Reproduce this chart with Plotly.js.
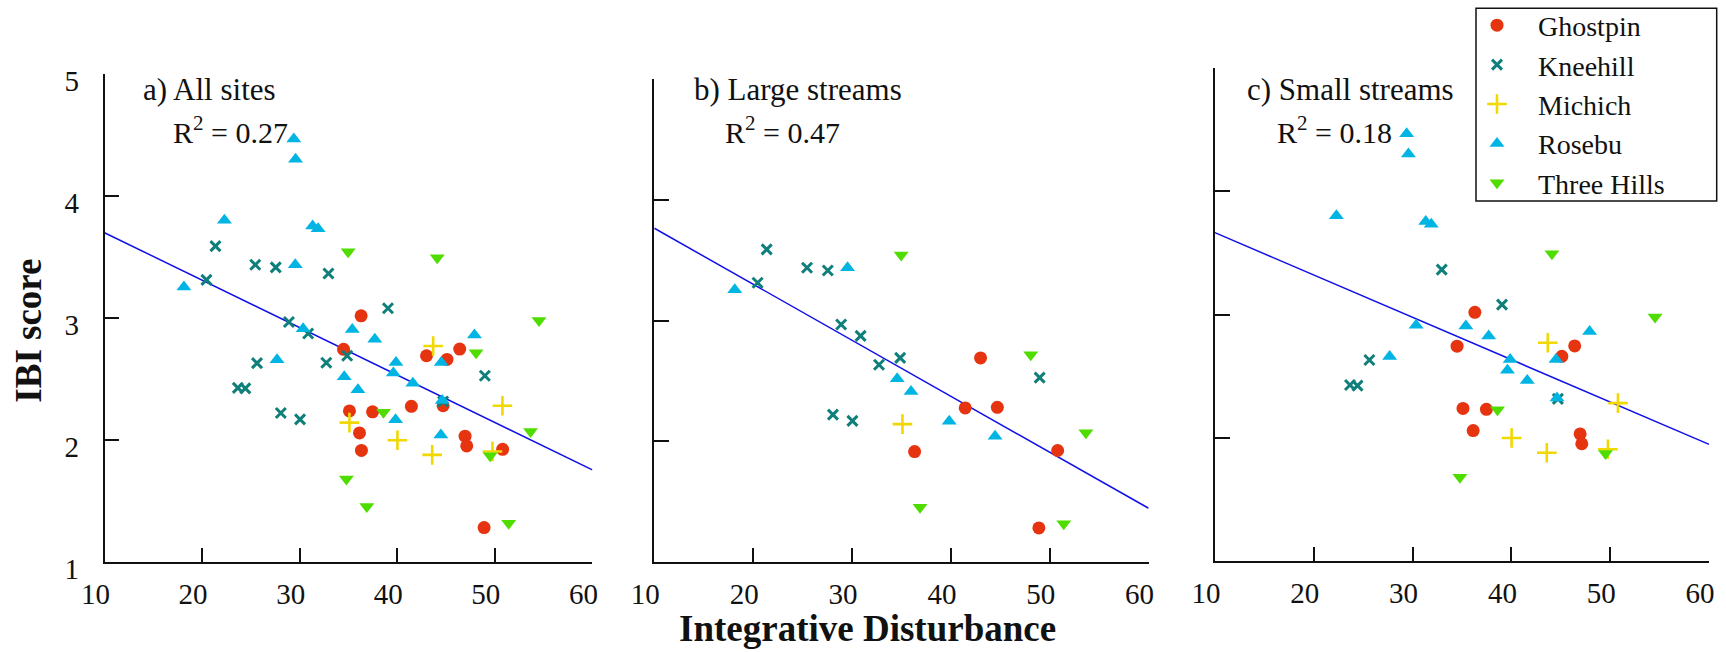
<!DOCTYPE html>
<html>
<head>
<meta charset="utf-8">
<script src="https://cdn.plot.ly/plotly-3.0.1.min.js"></script>
<style>
html, body { margin: 0; padding: 0; background: #ffffff; }
#chart { width: 1726px; height: 652px; }
#chart svg text { font-family: 'Liberation Serif', serif !important; }
</style>
</head>
<body>
<div id="chart"></div>
<script>
// ---------- data ----------
const sites = ['Ghostpin', 'Kneehill', 'Michich', 'Rosebu', 'Three Hills'];
const xTicks = [10, 20, 30, 40, 50, 60];
const yTicks = [1, 2, 3, 4, 5];

// Large streams
const ghostpinLargeX = [43.0, 41.45, 44.7, 36.33, 50.8, 48.9];
const ghostpinLargeY = [2.69, 2.275, 2.28, 1.913, 1.922, 1.28];
const kneehillLargeX = [21.37, 25.45, 27.55, 20.45, 28.9, 30.87, 34.87, 32.73, 28.07, 30.04, 48.98];
const kneehillLargeY = [3.59, 3.437, 3.415, 3.313, 2.967, 2.873, 2.69, 2.633, 2.22, 2.168, 2.526];
const michichLargeX = [35.1];
const michichLargeY = [2.141];
const rosebuLargeX = [18.14, 29.55, 34.57, 35.97, 39.83, 44.47];
const rosebuLargeY = [3.255, 3.438, 2.518, 2.412, 2.165, 2.04];
const threeHillsLargeX = [34.97, 48.08, 53.66, 36.88, 51.42];
const threeHillsLargeY = [3.543, 2.715, 2.069, 1.452, 1.315];

// Small streams
const ghostpinSmallX = [36.3, 34.5, 46.4, 45.1, 35.1, 37.47, 36.13, 46.95, 47.12];
const ghostpinSmallY = [3.018, 2.743, 2.745, 2.66, 2.237, 2.23, 2.057, 2.03, 1.95];
const kneehillSmallX = [32.95, 39.05, 25.63, 23.67, 24.43, 44.7];
const kneehillSmallY = [3.365, 3.08, 2.63, 2.427, 2.422, 2.315];
const michichSmallX = [43.68, 50.78, 40.02, 43.58, 49.76];
const michichSmallY = [2.77, 2.28, 1.997, 1.877, 1.905];
const rosebuSmallX = [29.4, 29.58, 22.29, 31.33, 31.89, 30.36, 35.39, 37.7, 47.91, 27.68, 39.87, 44.51, 39.6, 41.6, 44.61];
const rosebuSmallY = [4.468, 4.303, 3.803, 3.755, 3.733, 2.912, 2.906, 2.825, 2.861, 2.658, 2.634, 2.634, 2.548, 2.464, 2.322];
const threeHillsSmallX = [44.1, 54.53, 38.59, 49.52, 34.79];
const threeHillsSmallY = [3.494, 2.98, 2.227, 1.87, 1.678];

// Regression lines (end points)
const fitX = [10, 60];
const fitAllY = [3.70, 1.753];
const fitLargeY = [3.765, 1.443];
const fitSmallY = [3.665, 1.945];

const panelTitles = ['a) All sites', 'b) Large streams', 'c) Small streams'];
const r2Values = ['0.27', '0.47', '0.18'];

// ---------- assembly ----------
const largeData = {
  'Ghostpin': [ghostpinLargeX, ghostpinLargeY],
  'Kneehill': [kneehillLargeX, kneehillLargeY],
  'Michich': [michichLargeX, michichLargeY],
  'Rosebu': [rosebuLargeX, rosebuLargeY],
  'Three Hills': [threeHillsLargeX, threeHillsLargeY]
};
const smallData = {
  'Ghostpin': [ghostpinSmallX, ghostpinSmallY],
  'Kneehill': [kneehillSmallX, kneehillSmallY],
  'Michich': [michichSmallX, michichSmallY],
  'Rosebu': [rosebuSmallX, rosebuSmallY],
  'Three Hills': [threeHillsSmallX, threeHillsSmallY]
};
const allData = {};
sites.forEach(s => {
  allData[s] = [largeData[s][0].concat(smallData[s][0]), largeData[s][1].concat(smallData[s][1])];
});

const markerStyles = {
  'Ghostpin':    { symbol: 'circle', color: '#e5340f', size: 13 },
  'Kneehill':    { symbol: 'x-thin', color: '#0f7f7b', size: 10, line: { width: 3, color: '#0f7f7b' } },
  'Michich':     { symbol: 'cross-thin', color: '#f0d800', size: 14, line: { width: 2.6, color: '#f0d800' } },
  'Rosebu':      { symbol: 'triangle-up', color: '#00b5e3', size: 13 },
  'Three Hills': { symbol: 'triangle-down', color: '#4fdd00', size: 13 }
};

const panels = [
  { data: allData, fit: fitAllY, xa: 'x', ya: 'y' },
  { data: largeData, fit: fitLargeY, xa: 'x2', ya: 'y2' },
  { data: smallData, fit: fitSmallY, xa: 'x3', ya: 'y3' }
];

const traces = [];
panels.forEach((p, i) => {
  traces.push({
    type: 'scatter', mode: 'lines', x: fitX, y: p.fit,
    xaxis: p.xa, yaxis: p.ya, showlegend: false, hoverinfo: 'skip',
    line: { color: '#1010e8', width: 1.5 }
  });
  sites.forEach(s => {
    traces.push({
      type: 'scatter', mode: 'markers', name: s,
      x: p.data[s][0], y: p.data[s][1],
      xaxis: p.xa, yaxis: p.ya,
      legendgroup: s, showlegend: i === 0,
      marker: markerStyles[s]
    });
  });
});

const W = 1726, H = 652;
const px = v => v / W;
const py = v => 1 - v / H;
const serif = 'Liberation Serif';

function xAxis(d0, d1, anchor) {
  return {
    domain: [px(d0), px(d1)], range: [10, 60], anchor: anchor,
    tickmode: 'array', tickvals: xTicks, ticktext: xTicks.map(String),
    ticks: 'inside', ticklen: 14, tickwidth: 1.5, tickcolor: '#111',
    showline: true, linecolor: '#111', linewidth: 1.5,
    showgrid: false, zeroline: false, automargin: false,
    tickfont: { family: serif, size: 29, color: '#111' },
    ticklabelshift: -9, ticklabelstandoff: 6, fixedrange: true
  };
}
function yAxis(top, bottom, anchor, labels) {
  return {
    domain: [py(bottom), py(top)], range: [1, 5], anchor: anchor,
    tickmode: 'array', tickvals: yTicks, ticktext: yTicks.map(String),
    ticks: 'inside', ticklen: 15, tickwidth: 1.5, tickcolor: '#111',
    showline: true, linecolor: '#111', linewidth: 1.5,
    showgrid: false, zeroline: false, automargin: false,
    showticklabels: labels,
    tickfont: { family: serif, size: 29, color: '#111' },
    ticklabelshift: 7, ticklabelstandoff: 18, fixedrange: true
  };
}

const annFont = { family: serif, size: 31, color: '#111' };
const r2Font = { family: serif, size: 30, color: '#111' };
const labelPos = [
  { tx: 140.8, rx: 171 },
  { tx: 692, rx: 723 },
  { tx: 1244.8, rx: 1274.8 }
];
const annotations = [];
panelTitles.forEach((t, i) => {
  annotations.push({ xref: 'paper', yref: 'paper', x: px(labelPos[i].tx), y: py(89.5),
    xanchor: 'left', yanchor: 'middle', showarrow: false, text: t, font: annFont });
  annotations.push({ xref: 'paper', yref: 'paper', x: px(labelPos[i].rx), y: py(129.5),
    xanchor: 'left', yanchor: 'middle', showarrow: false,
    text: 'R<sup>2</sup> = ' + r2Values[i], font: r2Font });
});
annotations.push({ xref: 'paper', yref: 'paper', x: px(867), y: py(628),
  xanchor: 'center', yanchor: 'middle', showarrow: false,
  text: '<b>Integrative Disturbance</b>', font: { family: serif, size: 37, color: '#111' } });
annotations.push({ xref: 'paper', yref: 'paper', x: px(28.7), y: py(331),
  xanchor: 'center', yanchor: 'middle', showarrow: false, textangle: -90,
  text: '<b>IBI score</b>', font: { family: serif, size: 37, color: '#111' } });

const layout = {
  width: W, height: H,
  margin: { l: 0, r: 0, t: 0, b: 0, pad: 0 },
  paper_bgcolor: '#ffffff', plot_bgcolor: 'rgba(0,0,0,0)',
  font: { family: serif, color: '#111' },
  showlegend: true,
  legend: {
    x: px(1456), y: py(0.5), xanchor: 'left', yanchor: 'top',
    bgcolor: 'rgba(0,0,0,0)', borderwidth: 0,
    font: { family: serif, size: 28, color: '#111' },
    traceorder: 'normal', itemwidth: 72
  },
  shapes: [{
    type: 'rect', xref: 'paper', yref: 'paper',
    x0: px(1476), x1: px(1716.7), y0: py(201), y1: py(8.3),
    line: { color: '#111', width: 1.5 }, fillcolor: 'rgba(255,255,255,1)', layer: 'below'
  }],
  xaxis: xAxis(104.5, 592.4, 'y'),
  yaxis: yAxis(74.3, 561.7, 'x', true),
  xaxis2: xAxis(654.3, 1148.6, 'y2'),
  yaxis2: yAxis(79.3, 561.7, 'x2', false),
  xaxis3: xAxis(1214.9, 1709.1, 'y3'),
  yaxis3: yAxis(68.3, 560.7, 'x3', false),
  annotations: annotations
};

Plotly.newPlot('chart', traces, layout, { displayModeBar: false, responsive: false });
</script>
</body>
</html>
